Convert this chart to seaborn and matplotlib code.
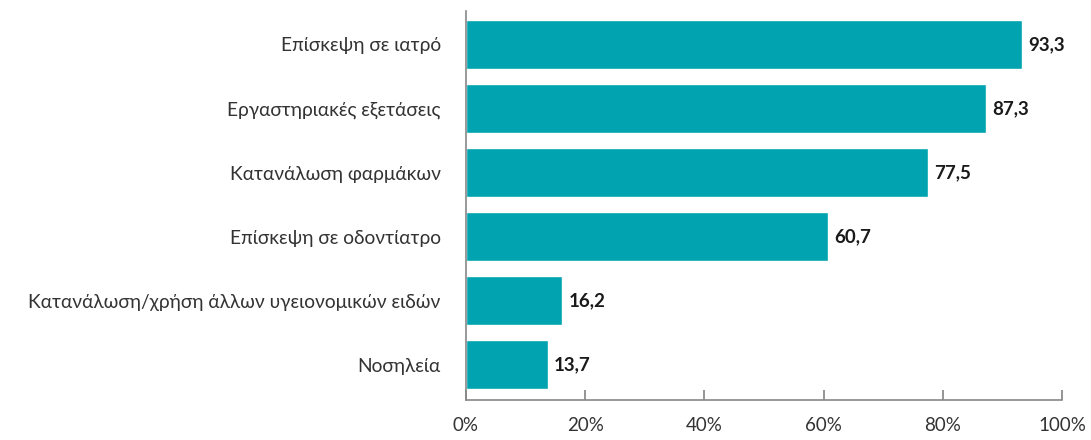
import matplotlib
matplotlib.use("Agg")
import matplotlib.pyplot as plt
import seaborn as sns
import pandas as pd

categories = ["Επίσκεψη σε ιατρό", "Εργαστηριακές εξετάσεις", "Κατανάλωση φαρμάκων",
              "Επίσκεψη σε οδοντίατρο", "Κατανάλωση/χρήση άλλων υγειονομικών ειδών", "Νοσηλεία"]
values = [93.3, 87.3, 77.5, 60.7, 16.2, 13.7]
xticks = [0, 20, 40, 60, 80, 100]
xticklabels = ["0%", "20%", "40%", "60%", "80%", "100%"]

sns.set_theme(style="white")
plt.rcParams['font.family'] = ['Lato', 'DejaVu Sans']

df = pd.DataFrame({"cat": categories, "val": values})
fig = plt.figure(figsize=(10.91, 4.40), dpi=100)
ax = fig.add_axes([0.427, 0.0909, 0.5466, 0.884])
sns.barplot(data=df, x="val", y="cat", color="#00A3AF", saturation=1, width=0.77, ax=ax)

for i, v in enumerate(values):
    ax.text(v + 1.0, i, f"{v:.1f}".replace(".", ","), va="center", ha="left",
            fontsize=13.5, fontweight="bold", color="#1a1a1a")

ax.set_xlim(0, 100)
ax.set_ylim(5.55, -0.52)
ax.set_xticks(xticks)
ax.set_xticklabels(xticklabels, fontsize=13.5, color="#333333")
ax.tick_params(axis="x", direction="in", length=7, color="#888888", pad=12, bottom=True)
ax.tick_params(axis="y", length=0, pad=18, labelcolor="#333333", labelsize=13.8)
ax.set_xlabel("")
ax.set_ylabel("")
for s in ["top", "right"]:
    ax.spines[s].set_visible(False)
for s in ["left", "bottom"]:
    ax.spines[s].set_color("#888888")
    ax.spines[s].set_linewidth(1.2)
fig.savefig("out.png", dpi=100)
